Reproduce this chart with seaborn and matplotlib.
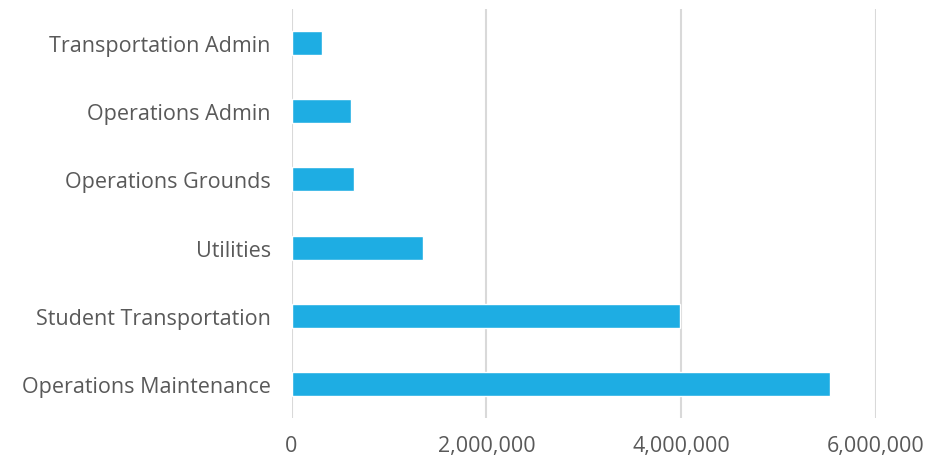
import matplotlib
matplotlib.use("Agg")
import matplotlib.pyplot as plt
import seaborn as sns
import pandas as pd
from matplotlib.ticker import FuncFormatter

categories = ["Transportation Admin", "Operations Admin", "Operations Grounds",
              "Utilities", "Student Transportation", "Operations Maintenance"]
values = [310000, 614000, 640000, 1350000, 3985000, 5526000]
xticks = [0, 2000000, 4000000, 6000000]

sns.set_theme(style="white")
plt.rcParams['font.family'] = ['Open Sans', 'DejaVu Sans']

df = pd.DataFrame({"category": categories, "value": values})

fig = plt.figure(figsize=(9.48, 4.6), dpi=100)
ax = fig.add_axes([291.5 / 948, 1 - 419 / 460, (876 - 291.5) / 948, 409 / 460])

sns.barplot(data=df, x="value", y="category", order=categories, color="#1EADE3",
            saturation=1, width=0.35, ax=ax)

ax.set_xlim(0, 6000000)
ax.set_ylim(5.5, -0.5)
ax.set_xticks(xticks)
ax.xaxis.set_major_formatter(FuncFormatter(lambda v, p: f"{int(v):,}"))
ax.grid(axis="x", color="#D9D9D9", linewidth=1.5)
ax.set_axisbelow(True)
for s in ax.spines.values():
    s.set_visible(False)
ax.tick_params(axis="both", length=0, labelsize=15.5, colors="#595959")
ax.tick_params(axis="y", pad=15)
ax.tick_params(axis="x", pad=12)
ax.set_xlabel("")
ax.set_ylabel("")

fig.savefig("out.png", dpi=100)
